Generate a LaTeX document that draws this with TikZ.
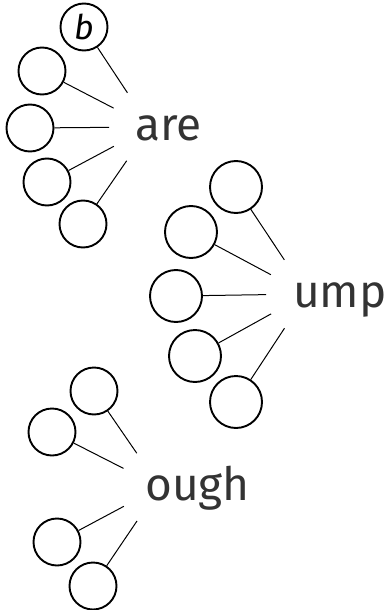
\documentclass[tikz,border=0pt]{standalone}
\usepackage{fontspec}
\setmainfont{Fira Sans}
\begin{document}
\begin{tikzpicture}[x=1pt, y=-1pt,
		c/.style = {circle,	draw=black,	line width=1.9pt,	minimum size=47, inner sep=0pt},
		cb/.style = {c,	minimum size=52},
		w/.style = {anchor=base west,	inner sep=0pt,	text=black!80,	font=\fontsize{46}{46}\selectfont},
		l/.style = {line width=1pt, shorten >=41pt}
		]
		\useasboundingbox (0, 0) rectangle (389, 610);
		
		%Nodes
		\coordinate	(ha)	at	(150, 127);
		\node[w]	(are)	at	(135, 140)	{are};
		\node[c]	(a1)	at	(84, 27)	{\fontsize{34}{34}\selectfont\itshape b};
		\node[c]	(a2)	at	(42, 71)	{};
		\node[c]	(a3)	at	(30, 128)	{};
		\node[c]	(a4)	at	(47, 182)	{};
		\node[c]	(a5)	at	(83, 224)	{};
		
		\coordinate	(hu)	at	(307, 294);
		\node[w]	(ump)	at	(293, 307)	{ump};
		\node[cb]	(u1)	at	(236, 187)	{};
		\node[cb]	(u2)	at	(191, 232)	{};
		\node[cb]	(u3)	at	(176, 296)	{};
		\node[cb]	(u4)	at	(195, 356)	{};
		\node[cb]	(u5)	at	(236, 402)	{};
		
		\coordinate	(ho)	at	(160, 487);
		\node[w]	(ough)	at	(145, 500)	{ough};
		\node[c]	(o1)	at	(94, 391)	{};
		\node[c]	(o2)	at	(52, 432)	{};
		\node[c]	(o4)	at	(57, 542)	{};
		\node[c]	(o5)	at	(93, 586)	{};
		
		%Lines
		\draw[l]	(a1)	to	(ha);
		\draw[l]	(a2)	to	(ha);
		\draw[l]	(a3)	to	(ha);
		\draw[l]	(a4)	to	(ha);
		\draw[l]	(a5)	to	(ha);
		
		\draw[l]	(u1)	to	(hu);
		\draw[l]	(u2)	to	(hu);
		\draw[l]	(u3)	to	(hu);
		\draw[l]	(u4)	to	(hu);
		\draw[l]	(u5)	to	(hu);
		
		\draw[l]	(o1)	to	(ho);
		\draw[l]	(o2)	to	(ho);
		\draw[l]	(o4)	to	(ho);
		\draw[l]	(o5)	to	(ho);
	\end{tikzpicture}
\end{document}
